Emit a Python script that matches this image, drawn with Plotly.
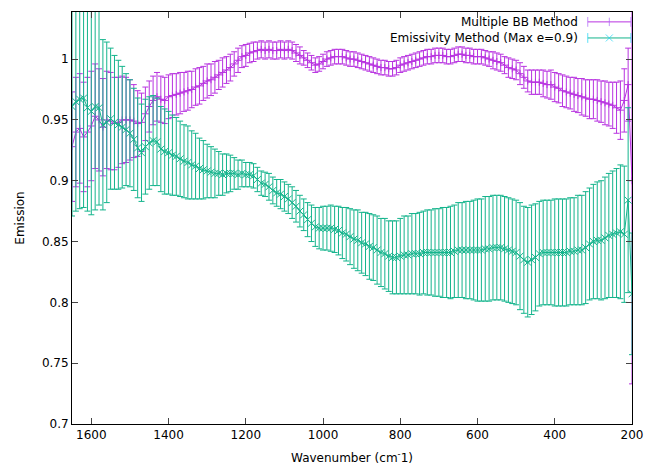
import plotly.graph_objects as go

wavenumber = [1650,1640,1630,1620,1610,1600,1590,1580,1570,1560,1550,1540,1530,1520,1510,1500,
              1490,1480,1470,1460,1450,1440,1430,1420,1410,1400,1390,1380,1370,1360,1350,1340,
              1330,1320,1310,1300,1290,1280,1270,1260,1250,1240,1230,1220,1210,1200,1190,1180,
              1170,1160,1150,1140,1130,1120,1110,1100,1090,1080,1070,1060,1050,1040,1030,1020,
              1010,1000,990,980,970,960,950,940,930,920,910,900,890,880,870,860,850,840,830,820,
              810,800,790,780,770,760,750,740,730,720,710,700,690,680,670,660,650,640,630,620,
              610,600,590,580,570,560,550,540,530,520,510,500,490,480,470,460,450,440,430,420,
              410,400,390,380,370,360,350,340,330,320,310,300,290,280,270,260,250,240,230,220,
              210,200]

bb_emission = [0.928,0.940,0.943,0.936,0.940,0.945,0.953,0.950,0.944,0.950,0.949,0.947,0.948,0.950,0.950,0.950,
               0.949,0.947,0.948,0.955,0.961,0.966,0.969,0.967,0.966,0.969,0.970,0.971,0.972,0.973,0.974,0.975,
               0.977,0.978,0.980,0.982,0.983,0.985,0.987,0.989,0.991,0.993,0.996,0.999,1.002,1.003,1.005,1.006,
               1.007,1.008,1.007,1.008,1.007,1.007,1.008,1.007,1.008,1.007,1.005,1.003,1.001,0.999,0.997,0.995,
               0.996,0.998,1.000,1.001,1.002,1.002,1.002,1.001,1.000,1.000,0.999,0.998,0.997,0.996,0.995,0.994,0.993,0.993,0.992,0.992,
               0.993,0.995,0.996,0.997,0.998,0.999,1.000,1.001,1.002,1.002,1.003,1.003,1.003,1.002,1.002,1.003,1.004,1.004,1.003,1.003,
               1.002,1.002,1.002,1.001,1.000,0.999,0.998,0.997,0.995,0.993,0.992,0.991,0.988,0.985,0.982,0.981,0.981,0.981,0.980,0.979,
               0.979,0.977,0.976,0.974,0.973,0.972,0.971,0.970,0.969,0.968,0.967,0.967,0.966,0.965,0.964,0.963,0.962,0.960,0.958,0.966,
               0.979,0.900]

bb_error = [0.045,0.045,0.045,0.045,0.045,0.045,0.043,0.042,0.040,0.040,0.040,0.038,0.037,0.036,0.035,0.033,
            0.030,0.027,0.024,0.022,0.021,0.020,0.020,0.019,0.019,0.018,0.018,0.017,0.017,0.016,0.016,0.015,
            0.015,0.015,0.014,0.014,0.013,0.013,0.012,0.012,0.011,0.011,0.010,0.010,0.009,0.009,0.008,0.008,
            0.007,0.007,0.007,0.007,0.007,0.007,0.007,0.007,0.007,0.007,0.007,0.007,0.006,0.006,0.006,0.006,
            0.006,0.006,0.006,0.006,0.006,0.006,0.006,0.006,0.006,0.006,0.006,0.006,0.006,0.006,0.006,0.006,0.006,0.006,0.006,0.006,
            0.006,0.006,0.006,0.006,0.006,0.006,0.006,0.006,0.006,0.006,0.006,0.006,0.006,0.006,0.006,0.006,0.006,0.006,0.006,0.006,
            0.006,0.006,0.006,0.006,0.006,0.007,0.007,0.007,0.007,0.008,0.008,0.008,0.009,0.009,0.009,0.010,0.010,0.010,0.011,0.011,
            0.012,0.012,0.012,0.013,0.013,0.013,0.014,0.014,0.015,0.015,0.016,0.016,0.017,0.017,0.018,0.018,0.019,0.021,0.024,0.026,
            0.030,0.167]

em_emission = [0.961,0.965,0.967,0.968,0.960,0.957,0.961,0.960,0.946,0.948,0.951,0.948,0.946,0.944,0.942,0.939,
               0.934,0.927,0.923,0.928,0.931,0.933,0.932,0.926,0.924,0.923,0.921,0.920,0.918,0.916,0.915,0.913,
               0.912,0.910,0.909,0.908,0.907,0.906,0.906,0.905,0.906,0.906,0.906,0.905,0.906,0.905,0.905,0.904,
               0.901,0.898,0.897,0.895,0.892,0.890,0.889,0.887,0.885,0.882,0.879,0.875,0.872,0.868,0.865,0.862,
               0.861,0.861,0.861,0.861,0.860,0.859,0.857,0.856,0.854,0.852,0.851,0.849,0.848,0.846,0.845,0.843,0.841,0.840,0.838,0.837,
               0.837,0.838,0.839,0.839,0.840,0.840,0.840,0.841,0.841,0.841,0.841,0.841,0.841,0.841,0.841,0.842,0.843,0.843,0.843,0.843,
               0.843,0.843,0.843,0.844,0.844,0.845,0.845,0.845,0.844,0.843,0.842,0.841,0.838,0.835,0.833,0.835,0.837,0.840,0.841,0.841,
               0.841,0.841,0.841,0.841,0.841,0.842,0.842,0.843,0.843,0.845,0.848,0.850,0.851,0.851,0.853,0.855,0.856,0.857,0.858,0.856,
               0.884,0.807]

em_error = [0.090,0.090,0.090,0.090,0.085,0.085,0.085,0.080,0.070,0.066,0.058,0.055,0.053,0.050,0.046,0.044,
            0.042,0.041,0.040,0.039,0.038,0.037,0.036,0.035,0.035,0.034,0.033,0.032,0.031,0.030,0.030,0.028,
            0.027,0.025,0.024,0.022,0.021,0.020,0.018,0.017,0.016,0.015,0.013,0.012,0.011,0.010,0.010,0.010,
            0.010,0.010,0.010,0.011,0.011,0.011,0.012,0.012,0.012,0.013,0.013,0.013,0.013,0.014,0.015,0.016,
            0.017,0.018,0.018,0.019,0.019,0.020,0.021,0.022,0.023,0.024,0.025,0.025,0.026,0.027,0.027,0.028,0.028,0.029,0.029,0.030,
            0.030,0.031,0.032,0.032,0.033,0.033,0.034,0.034,0.035,0.035,0.036,0.036,0.037,0.037,0.038,0.038,0.039,0.039,0.040,0.040,
            0.041,0.042,0.042,0.043,0.043,0.043,0.043,0.043,0.043,0.043,0.043,0.043,0.044,0.044,0.045,0.045,0.044,0.043,0.043,0.043,
            0.043,0.044,0.044,0.044,0.044,0.044,0.044,0.045,0.045,0.046,0.046,0.047,0.048,0.049,0.050,0.051,0.052,0.053,0.055,0.056,
            0.076,0.050]

series_names = ["Multiple BB Method", "Emissivity Method (Max e=0.9)"]
y_ticks = [0.7, 0.75, 0.8, 0.85, 0.9, 0.95, 1.0]
y_tick_text = ["0.7", "0.75", "0.8", "0.85", "0.9", "0.95", "1"]
x_ticks = [1600, 1400, 1200, 1000, 800, 600, 400, 200]

MAG = "#b833e0"
GRN = "#14b48c"
FONT = "DejaVu Sans"

fig = go.Figure()

fig.add_trace(go.Scatter(
    x=wavenumber, y=bb_emission, mode="lines+markers", name=series_names[0],
    line=dict(color=MAG, width=1),
    marker=dict(symbol="cross-thin-open", size=5, line=dict(color=MAG, width=1)),
    error_y=dict(type="data", array=bb_error, visible=True, color=MAG, thickness=1, width=3),
    showlegend=False,
))
fig.add_trace(go.Scatter(
    x=wavenumber, y=em_emission, mode="lines+markers", name=series_names[1],
    line=dict(color=GRN, width=1),
    marker=dict(symbol="x-thin-open", size=7, line=dict(color=GRN, width=1)),
    error_y=dict(type="data", array=em_error, visible=True, color=GRN, thickness=1, width=3),
    showlegend=False,
))

# gnuplot-style key (text left of sample)
key_y = [0.976, 0.937]
key_colors = [MAG, GRN]
key_mid = ["line-ns-open", "x-thin-open"]
for i in range(2):
    fig.add_trace(go.Scatter(
        x=[0.921, 0.998], y=[key_y[i], key_y[i]], xaxis="x2", yaxis="y2",
        mode="lines", line=dict(color=key_colors[i], width=1),
        showlegend=False, hoverinfo="skip", cliponaxis=False,
    ))
    fig.add_trace(go.Scatter(
        x=[0.921, 0.9595, 0.998], y=[key_y[i]] * 3, xaxis="x2", yaxis="y2",
        mode="markers",
        marker=dict(symbol=["line-ns-open", key_mid[i], "line-ns-open"],
                    size=[7, 6 if i == 0 else 7, 7],
                    line=dict(color=key_colors[i], width=1)),
        showlegend=False, hoverinfo="skip", cliponaxis=False,
    ))
    fig.add_annotation(
        x=0.907, y=key_y[i], xref="paper", yref="paper", text=series_names[i],
        xanchor="right", yanchor="middle", showarrow=False,
        font=dict(family=FONT, size=12, color="#000000"),
    )

fig.update_layout(
    width=646, height=467,
    margin=dict(l=72, r=14, t=12, b=43),
    paper_bgcolor="white", plot_bgcolor="white",
    font=dict(family=FONT, size=12, color="#000000"),
    xaxis=dict(
        range=[1650, 200], tickvals=x_ticks, ticks="inside", ticklen=6,
        showline=True, linecolor="#000000", linewidth=1, mirror="ticks",
        showgrid=False, zeroline=False, automargin=False,
        title=dict(text="Wavenumber (cm<sup>-</sup>1)", standoff=12, font=dict(size=12)),
        tickfont=dict(size=12),
    ),
    yaxis=dict(
        range=[0.7, 1.0387], tickvals=y_ticks, ticktext=y_tick_text,
        ticks="inside", ticklen=6,
        showline=True, linecolor="#000000", linewidth=1, mirror="ticks",
        showgrid=False, zeroline=False, automargin=False,
        title=dict(text="Emission", standoff=14, font=dict(size=12)),
        tickfont=dict(size=12),
    ),
    xaxis2=dict(overlaying="x", range=[0, 1], visible=False, fixedrange=True),
    yaxis2=dict(overlaying="y", range=[0, 1], visible=False, fixedrange=True),
)

fig.write_html("out.html")
